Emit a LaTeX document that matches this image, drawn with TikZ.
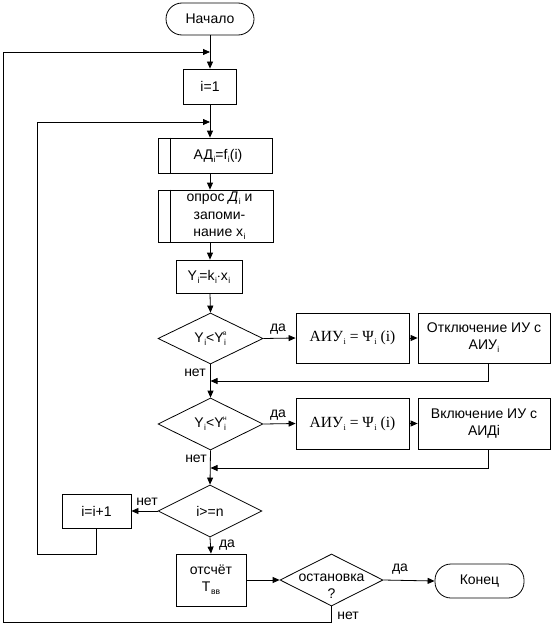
\documentclass[tikz,border=0pt]{standalone}
\usepackage{fontspec}
\setmainfont{Liberation Sans}
\newfontfamily\serifru{Liberation Serif}
\usetikzlibrary{shapes.geometric,arrows.meta}
\newcommand{\ssb}[1]{\hspace{0.5pt}\raisebox{-0.4ex}{\fontsize{8.5}{8.5}\selectfont #1}}
\newcommand{\ssp}[1]{\raisebox{1.0ex}{\fontsize{6.5}{6.5}\selectfont #1}}
\begin{document}
\begin{tikzpicture}[x=1pt,y=-1pt,
  font=\fontsize{14}{17}\selectfont,
  line width=0.8pt,
  wh/.style 2 args={minimum width=#1pt,minimum height=#2pt},
  box/.style={draw,inner sep=0pt,align=center},
  term/.style={box,rounded corners=16pt},
  dia/.style={draw,diamond,inner sep=0pt},
  arr/.style={-{Triangle[length=7pt,width=6pt]}},
  lbl/.style={inner sep=0pt}]
\useasboundingbox (0,0) rectangle (558,626);
% nodes
\node[term,wh={88}{32}] (start) at (210,19) {Начало};
\node[box,wh={53}{35}] (i1) at (210,86.5) {i=1};
\node[box,wh={114}{35}] (ad) at (215,155.5) {\hspace*{6pt}АД\ssb{i}=f\ssb{i}(i)};
\node[box,wh={115}{52},font=\fontsize{14}{17.5}\selectfont] (opr) at (215.5,216) {\hspace*{8pt}опрос \textit{Д}\ssb{i} и\\\hspace*{8pt}запоми-\\\hspace*{8pt}нание x\ssb{i}};
\node[box,wh={66}{33}] (y) at (209,276.5) {Y\ssb{i}=k\ssb{i}$\cdot$x\ssb{i}};
\node[dia,wh={105}{51},label=center:{Y\ssb{i}<Y\ssb{i}\hspace{-3pt}\ssp{в}}] (d1) at (210.5,338.5) {};
\node[box,wh={113}{50},font=\serifru\fontsize{15.5}{17}\selectfont] (a1) at (352.5,338) {АИУ\ssb{i} = Ψ\ssb{i} (i)};
\node[box,wh={132}{50}] (o1) at (484,338) {Отключение ИУ с\\АИУ\ssb{i}};
\node[dia,wh={105}{52},label=center:{Y\ssb{i}<Y\ssb{i}\hspace{-3pt}\ssp{н}}] (d2) at (210.5,424) {};
\node[box,wh={113}{51},font=\serifru\fontsize{15.5}{17}\selectfont] (a2) at (352.5,423.5) {АИУ\ssb{i} = Ψ\ssb{i} (i)};
\node[box,wh={132}{51}] (v2) at (484,423.5) {Включение ИУ с\\АИДi};
\node[dia,wh={104}{52},label=center:{i>=n}] (d3) at (210,511) {};
\node[box,wh={69}{34}] (inc) at (96.5,511) {i=i+1};
\node[box,wh={70}{52}] (ots) at (211,580) {отсчёт\\T\ssb{вв}};
\node[dia,wh={103}{52},label={[align=center,yshift=-6pt]center:остановка\\?}] (d4) at (331.5,580) {};
\node[term,wh={89}{34}] (end) at (479.5,581) {Конец};
% inner lines of predefined process boxes
\draw ([xshift=13pt]ad.north west) -- ([xshift=13pt]ad.south west);
\draw ([xshift=13pt]opr.north west) -- ([xshift=13pt]opr.south west);
% helper coordinates
\coordinate (j0) at (210,52);
\coordinate (j1) at (210,122);
\coordinate (r1) at (488,381);
\coordinate (r2) at (488,468);
\coordinate (lb) at (37,554);
\coordinate (ob) at (3,622);
% main column
\draw[arr] (start) -- (i1);
\draw[arr] (i1) -- (i1 |- ad.north);
\draw[arr] (i1 |- ad.south) -- (i1 |- opr.north);
\draw[arr] (i1 |- opr.south) -- (i1 |- y.north);
\draw[arr] (i1 |- y.south) -- (d1.north);
\draw[arr] (d1.south) -- (d2.north);
\draw[arr] (d2.south) -- (d3.north);
\draw[arr] (d3.south) -- (ots.north);
% branches
\draw[arr] (d1.east) -- (a1.west);
\draw[arr] (a1.east) -- (o1.west);
\draw[arr] (o1.south -| r1) -- (r1) -- (r1 -| d1.south);
\draw[arr] (d2.east) -- (a2.west);
\draw[arr] (a2.east) -- (v2.west);
\draw[arr] (v2.south -| r2) -- (r2) -- (r2 -| d2.south);
\draw[arr] (d3.west) -- (inc.east);
\draw[arr] (inc.south) |- (lb -| inc.south) -- (lb) |- (j1);
\draw[arr] (ots.east) -- (d4.west);
\draw[arr] (d4.east) -- (end.west);
\draw[arr] (d4.south) -- (d4.south |- ob) -- (ob) |- (j0);
% labels
\node[lbl] (l1) at (278,329) {да};
\node[lbl] (l2) at (195,373) {нет};
\node[lbl] (l3) at (278,415) {да};
\node[lbl] (l4) at (196,459) {нет};
\node[lbl] (l5) at (147,502) {нет};
\node[lbl] (l6) at (227,545) {да};
\node[lbl] (l7) at (400,569) {да};
\node[lbl] (l8) at (348,616) {нет};
\end{tikzpicture}
\end{document}
